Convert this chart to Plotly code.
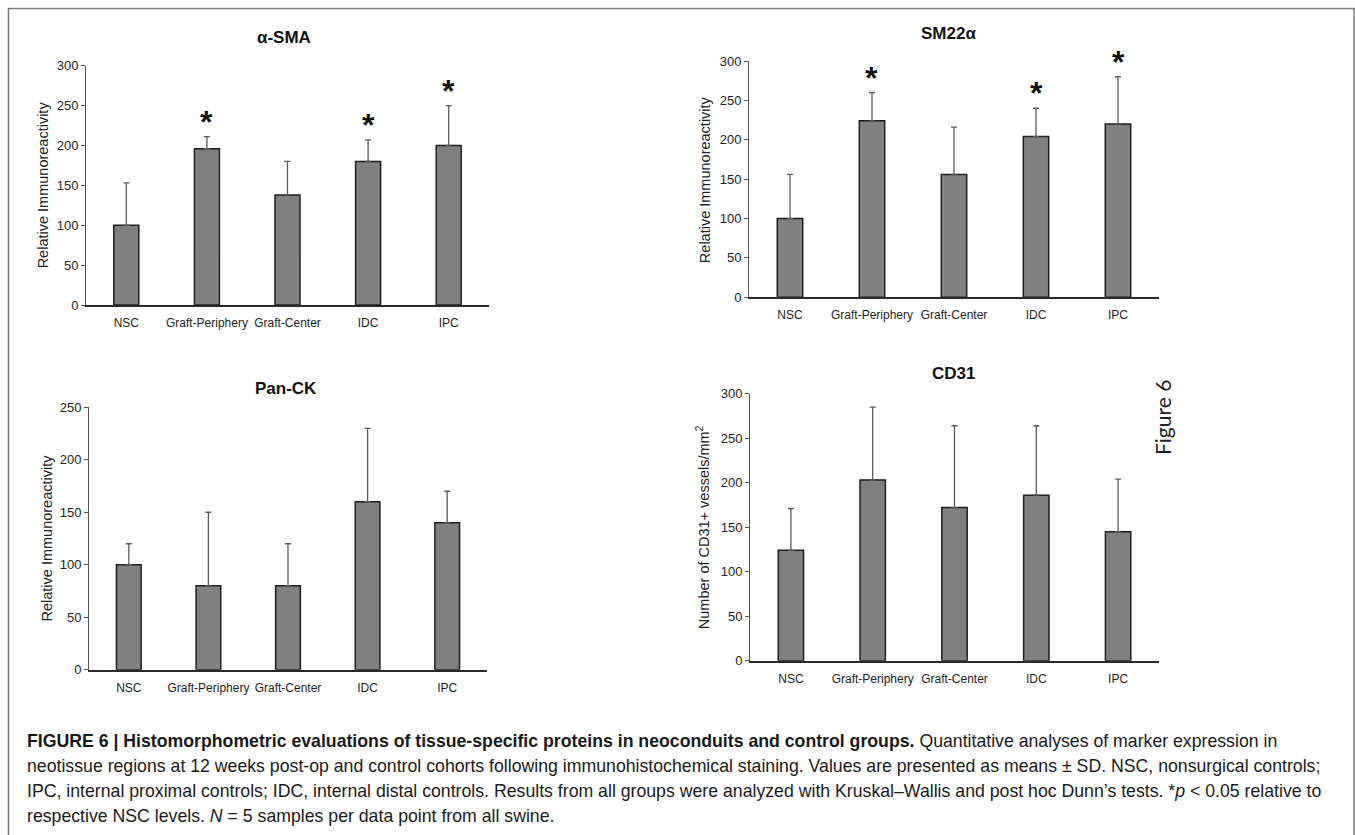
import plotly.graph_objects as go

W, H = 1355, 835

categories = ["NSC", "Graft-Periphery", "Graft-Center", "IDC", "IPC"]

sma_mean = [100, 196, 138, 180, 200]
sma_sd = [53, 15, 42, 27, 50]
sma_sig = [False, True, False, True, True]

sm22_mean = [100, 224, 156, 204, 220]
sm22_sd = [56, 36, 60, 36, 60]
sm22_sig = [False, True, False, True, True]

panck_mean = [100, 80, 80, 160, 140]
panck_sd = [20, 70, 40, 70, 30]
panck_sig = [False, False, False, False, False]

cd31_mean = [124, 203, 172, 186, 145]
cd31_sd = [47, 82, 92, 78, 59]
cd31_sig = [False, False, False, False, False]

panel_titles = ["α-SMA", "SM22α", "Pan-CK", "CD31"]
y_titles = ["Relative Immunoreactivity", "Relative Immunoreactivity",
            "Relative Immunoreactivity", "Number of CD31+ vessels/mm<sup>2</sup>"]
y_max = [300, 300, 250, 300]
y_dtick = [50, 50, 50, 50]

caption_lines = [
    "<b>FIGURE 6 | Histomorphometric evaluations of tissue-specific proteins in neoconduits and control groups.</b> Quantitative analyses of marker expression in",
    "neotissue regions at 12 weeks post-op and control cohorts following immunohistochemical staining. Values are presented as means ± SD. NSC, nonsurgical controls;",
    "IPC, internal proximal controls; IDC, internal distal controls. Results from all groups were analyzed with Kruskal–Wallis and post hoc Dunn’s tests. *<i>p</i> &lt; 0.05 relative to",
    "respective NSC levels. <i>N</i> = 5 samples per data point from all swine.",
]

# pixel geometry of the four plot areas: (x_left, x_right, y_top, y_bottom)
boxes = [
    (86, 489, 65.7, 305),
    (749, 1159, 61, 297.3),
    (89, 487, 407.3, 669.7),
    (750, 1159, 393.7, 660.7),
]
title_pos = [(284, 38), (948, 34), (286, 388), (953, 373)]
ytitle_x = [43, 705, 46, 703]


def px(x):
    return x / W


def py(y):
    return 1 - y / H


FONT = "Liberation Sans, Arial, sans-serif"
means = [sma_mean, sm22_mean, panck_mean, cd31_mean]
sds = [sma_sd, sm22_sd, panck_sd, cd31_sd]
sigs = [sma_sig, sm22_sig, panck_sig, cd31_sig]

fig = go.Figure()
annotations = []
layout_axes = {}

for i in range(4):
    n = "" if i == 0 else str(i + 1)
    xa, ya = "x" + n, "y" + n
    fig.add_trace(go.Bar(
        x=categories, y=means[i], xaxis=xa, yaxis=ya,
        marker=dict(color="#808080", line=dict(color="#1e1e1e", width=1.5)),
        error_y=dict(type="data", array=sds[i], arrayminus=[0] * 5, symmetric=False,
                     color="#5a5a5a", thickness=1.3, width=3),
        showlegend=False, hoverinfo="skip",
    ))
    x0, x1, y0, y1 = boxes[i]
    layout_axes["xaxis" + n] = dict(
        domain=[px(x0), px(x1)], anchor=ya, showline=True, linecolor="#2a2a2a",
        linewidth=1.5, ticks="", showgrid=False, zeroline=False, tickangle=0,
        automargin=False,
        tickfont=dict(family=FONT, size=12, color="#1e1e1e"), ticklabelstandoff=6,
    )
    layout_axes["yaxis" + n] = dict(
        domain=[py(y1), py(y0)], anchor=xa, range=[0, y_max[i]], dtick=y_dtick[i],
        showline=True, linecolor="#555", linewidth=1, ticks="outside", ticklen=4,
        tickcolor="#555", tickwidth=1, showgrid=False, zeroline=False, automargin=False,
        tickfont=dict(family=FONT, size=13, color="#1e1e1e"),
    )
    tx, ty = title_pos[i]
    annotations.append(dict(text="<b>" + panel_titles[i] + "</b>", x=px(tx), y=py(ty),
                            xref="paper", yref="paper", showarrow=False,
                            xanchor="center", yanchor="middle",
                            font=dict(family=FONT, size=17, color="#111")))
    annotations.append(dict(text=y_titles[i], x=px(ytitle_x[i]), y=py((y0 + y1) / 2),
                            xref="paper", yref="paper", showarrow=False, textangle=-90,
                            xanchor="center", yanchor="middle",
                            font=dict(family=FONT, size=14.5, color="#222")))
    for c, m, s, g in zip(categories, means[i], sds[i], sigs[i]):
        if g:
            annotations.append(dict(text="<b>*</b>", x=c, y=m + s, xref=xa, yref=ya,
                                    showarrow=False, xanchor="center", yanchor="middle",
                                    yshift=15,
                                    font=dict(family=FONT, size=32, color="#111")))

annotations.append(dict(text="Figure 6", x=px(1162), y=py(418), xref="paper", yref="paper",
                        showarrow=False, textangle=-90, xanchor="center", yanchor="middle",
                        font=dict(family="Lato, Carlito, sans-serif", size=21, color="#222")))

caption_y = [741, 766, 791, 816]
for line, cy in zip(caption_lines, caption_y):
    annotations.append(dict(text=line, x=px(25), y=py(cy), xref="paper", yref="paper",
                            showarrow=False, xanchor="left", yanchor="middle",
                            font=dict(family=FONT, size=17.7, color="#1a1a1a")))

shapes = [dict(type="rect", xref="paper", yref="paper", x0=px(8.5), x1=px(1354),
               y0=py(900), y1=py(8.5), line=dict(color="#7a7a7a", width=1.5),
               fillcolor="rgba(0,0,0,0)")]

fig.update_layout(
    width=W, height=H, margin=dict(l=0, r=0, t=0, b=0, pad=0, autoexpand=False),
    paper_bgcolor="white", plot_bgcolor="white",
    bargap=0.69, annotations=annotations, shapes=shapes,
    **layout_axes,
)

page_fix = """
document.body.style.margin='0';
document.body.style.overflow='hidden';
document.documentElement.style.overflow='hidden';
"""

fig.write_html("out.html", config={"displayModeBar": False}, post_script=page_fix)
